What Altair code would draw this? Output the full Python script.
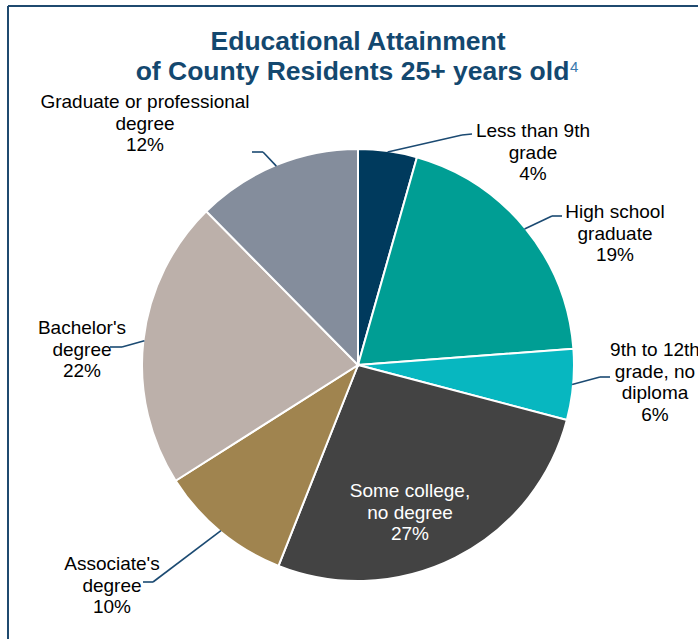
import math
import altair as alt
import pandas as pd

# ---- data ----
categories = [
    "Less than 9th grade",
    "High school graduate",
    "9th to 12th grade, no diploma",
    "Some college, no degree",
    "Associate's degree",
    "Bachelor's degree",
    "Graduate or professional degree",
]
shares = [4.4, 19.4, 5.3, 26.9, 10.0, 21.6, 12.4]
pct_labels = ["4%", "19%", "6%", "27%", "10%", "22%", "12%"]
label_lines = [
    ["Less than 9th", "grade"],
    ["High school", "graduate"],
    ["9th to 12th", "grade, no", "diploma"],
    ["Some college,", "no degree"],
    ["Associate's", "degree"],
    ["Bachelor's", "degree"],
    ["Graduate or professional", "degree"],
]
colors = ["#003A5D", "#009E94", "#07B7C0", "#434343", "#A0844F", "#BCB0AA", "#848D9C"]

# ---- layout (pixels) ----
W, H = 698, 639
CX, CY, R = 358, 365, 216
label_pos = [(533, 137), (615, 218), (655, 356), (410, 497), (112, 570), (82, 334), (145, 108)]
elbows = [(462, 135), (552, 216), (600, 377), None, (153, 582), (122, 347), (263, 152)]
ends = [(472, 134), (562, 216), (610, 377), None, (143, 582), (110, 347), (252, 152)]
LINE = "#1B4A72"
TITLE = "#13486F"

pie_df = pd.DataFrame({"category": categories, "share": shares, "idx": list(range(len(categories)))})

# leader lines start at slice mid-angle on the pie edge
total = sum(shares)
cum = 0.0
segs = []
for i, s in enumerate(shares):
    mid = (cum + s / 2) / total * 2 * math.pi
    cum += s
    if elbows[i] is None:
        continue
    sx = CX + (R - 1) * math.sin(mid)
    sy = CY - (R - 1) * math.cos(mid)
    ex, ey = elbows[i]
    fx, fy = ends[i]
    segs.append({"x": sx, "y": sy, "x2": ex, "y2": ey})
    segs.append({"x": ex, "y": ey, "x2": fx, "y2": fy})
seg_df = pd.DataFrame(segs)

lab_df = pd.DataFrame({
    "x": [p[0] for p in label_pos],
    "y": [p[1] for p in label_pos],
    "text": [lines + [p] for lines, p in zip(label_lines, pct_labels)],
    "tcolor": ["white" if c.startswith("Some college") else "black" for c in categories],
})

xs = alt.Scale(domain=[0, W], nice=False, zero=False)
ys = alt.Scale(domain=[0, H], nice=False, zero=False, reverse=True)

frame_v = alt.Chart(pd.DataFrame({"a": [0]})).mark_rule(color="#1F4A6F", strokeWidth=2).encode(
    x=alt.value(8), y=alt.value(6), y2=alt.value(H)
)
frame_h = alt.Chart(pd.DataFrame({"a": [0]})).mark_rule(color="#1F4A6F", strokeWidth=2).encode(
    x=alt.value(8), x2=alt.value(W), y=alt.value(6)
)

pie = alt.Chart(pie_df).mark_arc(outerRadius=R, stroke="white", strokeWidth=2).encode(
    theta=alt.Theta("share:Q", stack=True),
    color=alt.Color("category:N", scale=alt.Scale(domain=categories, range=colors), legend=None),
    order=alt.Order("idx:Q"),
    x=alt.value(CX),
    y=alt.value(CY),
)

leaders = alt.Chart(seg_df).mark_rule(color=LINE, strokeWidth=1.6).encode(
    x=alt.X("x:Q", scale=xs, axis=None),
    y=alt.Y("y:Q", scale=ys, axis=None),
    x2="x2:Q",
    y2="y2:Q",
)

labels = alt.Chart(lab_df).mark_text(
    font="Liberation Sans", fontSize=19, align="center", baseline="alphabetic", lineHeight=21.5
).encode(
    x=alt.X("x:Q", scale=xs, axis=None),
    y=alt.Y("y:Q", scale=ys, axis=None),
    text="text",
    color=alt.Color("tcolor:N", scale=None),
)

title_df = pd.DataFrame({
    "x": [358, 352.5],
    "y": [50, 80],
    "text": ["Educational Attainment", "of County Residents 25+ years old"],
})
title = alt.Chart(title_df).mark_text(
    font="Liberation Sans", fontSize=26.5, fontWeight="bold", align="center", baseline="alphabetic", color=TITLE
).encode(
    x=alt.X("x:Q", scale=xs, axis=None),
    y=alt.Y("y:Q", scale=ys, axis=None),
    text="text:N",
)
sup = alt.Chart(pd.DataFrame({"x": [570], "y": [72], "text": ["4"]})).mark_text(
    font="Liberation Sans", fontSize=15, align="left", baseline="alphabetic", color="#3A79AE"
).encode(
    x=alt.X("x:Q", scale=xs, axis=None),
    y=alt.Y("y:Q", scale=ys, axis=None),
    text="text:N",
)

chart = alt.layer(frame_v, frame_h, pie, leaders, labels, title, sup).properties(
    width=W, height=H, autosize=alt.AutoSizeParams(type="none"), padding=0, background="white"
).configure_view(strokeWidth=0)

chart.save("out.html", embed_options={"renderer": "svg", "actions": False})
